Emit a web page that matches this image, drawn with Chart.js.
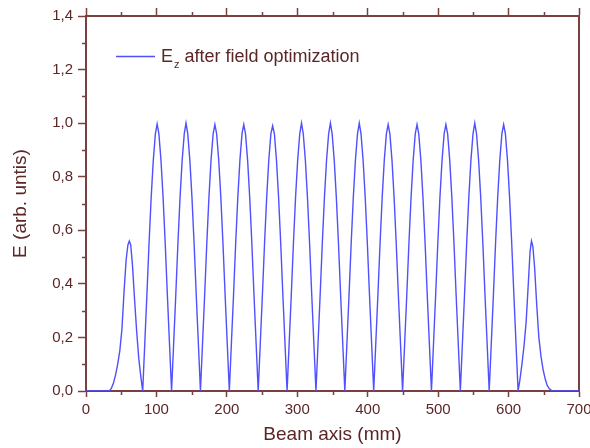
<!DOCTYPE html>
<html lang="en">
<head>
  <meta charset="UTF-8" />
  <title>Ez after field optimization</title>
  <script src="https://cdn.jsdelivr.net/npm/chart.js"></script>
  <style>
    html, body { margin: 0; padding: 0; background: #ffffff; }
    #wrap { width: 590px; height: 448px; }
  </style>
</head>
<body>
  <div id="wrap"><canvas id="fieldChart" width="590" height="448"></canvas></div>

  <script>
    // beam axis position (mm)
    const beamX = [
      0, 33, 36, 39, 42, 45, 48, 51, 54, 57, 59.5, 61.5, 63.5, 66, 69, 72, 75, 78,
      80.5, 83.5, 86.5, 89.5, 92.5, 95.5, 98.5, 101, 103.5, 106.5, 109.5, 112.5, 115.5, 118.5,
      121.5, 124.5, 127.5, 130.5, 133.5, 136.5, 139.5, 142, 144.5, 147.5, 150.5, 153.5, 156.5, 159.5,
      162.5, 165.5, 168.5, 171.5, 174.5, 177.5, 180.5, 183, 185.5, 188.5, 191.5, 194.5, 197.5, 200.5,
      203.5, 206.5, 209.5, 212.5, 215.5, 218.5, 221.5, 224, 226.5, 229.5, 232.5, 235.5, 238.5, 241.5,
      244.5, 247.5, 250.5, 253.5, 256.5, 259.5, 262.5, 265, 267.5, 270.5, 273.5, 276.5, 279.5, 282.5,
      285.5, 288.5, 291.5, 294.5, 297.5, 300.5, 303.5, 306, 308.5, 311.5, 314.5, 317.5, 320.5, 323.5,
      326.5, 329.5, 332.5, 335.5, 338.5, 341.5, 344.5, 347, 349.5, 352.5, 355.5, 358.5, 361.5, 364.5,
      367.5, 370.5, 373.5, 376.5, 379.5, 382.5, 385.5, 388, 390.5, 393.5, 396.5, 399.5, 402.5, 405.5,
      408.5, 411.5, 414.5, 417.5, 420.5, 423.5, 426.5, 429, 431.5, 434.5, 437.5, 440.5, 443.5, 446.5,
      449.5, 452.5, 455.5, 458.5, 461.5, 464.5, 467.5, 470, 472.5, 475.5, 478.5, 481.5, 484.5, 487.5,
      490.5, 493.5, 496.5, 499.5, 502.5, 505.5, 508.5, 511, 513.5, 516.5, 519.5, 522.5, 525.5, 528.5,
      531.5, 534.5, 537.5, 540.5, 543.5, 546.5, 549.5, 552, 554.5, 557.5, 560.5, 563.5, 566.5, 569.5,
      572.5, 575.5, 578.5, 581.5, 584.5, 587.5, 590.5, 593, 595.5, 598.5, 601.5, 604.5, 607.5, 610.5,
      613.5, 616, 619, 622, 625, 628, 630.5, 632.5, 634.5, 637, 640, 643, 646, 649, 652, 655, 658, 662, 668, 700
    ];

    // E (arb. units) at each position
    const fieldE = [
      0, 0, 0.01, 0.03, 0.06, 0.10, 0.15, 0.23, 0.37, 0.49, 0.545, 0.56, 0.545, 0.47, 0.34, 0.22, 0.12, 0.05,
      0, 0.18, 0.36, 0.55, 0.72, 0.86, 0.96, 0.997, 0.96, 0.86, 0.72, 0.55, 0.36, 0.18,
      0, 0.18, 0.36, 0.55, 0.72, 0.86, 0.96, 1.0, 0.96, 0.86, 0.72, 0.55, 0.36, 0.18,
      0, 0.18, 0.36, 0.55, 0.72, 0.86, 0.96, 0.995, 0.96, 0.86, 0.72, 0.55, 0.36, 0.18,
      0, 0.18, 0.36, 0.55, 0.72, 0.86, 0.96, 0.995, 0.96, 0.86, 0.72, 0.55, 0.36, 0.18,
      0, 0.18, 0.36, 0.55, 0.72, 0.86, 0.96, 0.99, 0.96, 0.86, 0.72, 0.55, 0.36, 0.18,
      0, 0.18, 0.36, 0.55, 0.72, 0.86, 0.96, 1.0, 0.96, 0.86, 0.72, 0.55, 0.36, 0.18,
      0, 0.18, 0.36, 0.55, 0.72, 0.86, 0.96, 1.0, 0.96, 0.86, 0.72, 0.55, 0.36, 0.18,
      0, 0.18, 0.36, 0.55, 0.72, 0.86, 0.96, 1.0, 0.96, 0.86, 0.72, 0.55, 0.36, 0.18,
      0, 0.18, 0.36, 0.55, 0.72, 0.86, 0.96, 0.995, 0.96, 0.86, 0.72, 0.55, 0.36, 0.18,
      0, 0.18, 0.36, 0.55, 0.72, 0.86, 0.96, 0.995, 0.96, 0.86, 0.72, 0.55, 0.36, 0.18,
      0, 0.18, 0.36, 0.55, 0.72, 0.86, 0.96, 0.995, 0.96, 0.86, 0.72, 0.55, 0.36, 0.18,
      0, 0.18, 0.36, 0.55, 0.72, 0.86, 0.96, 1.0, 0.96, 0.86, 0.72, 0.55, 0.36, 0.18,
      0, 0.18, 0.36, 0.55, 0.72, 0.86, 0.96, 0.995, 0.96, 0.86, 0.72, 0.55, 0.36, 0.18,
      0, 0.04, 0.10, 0.17, 0.26, 0.40, 0.52, 0.56, 0.54, 0.46, 0.32, 0.20, 0.13, 0.08, 0.045, 0.02, 0.008, 0, 0, 0
    ];

    // axis ticks
    const xTickValues = [0, 100, 200, 300, 400, 500, 600, 700];
    const xMinorTicks = [50, 150, 250, 350, 450, 550, 650];
    const yTickValues = [0, 0.2, 0.4, 0.6, 0.8, 1.0, 1.2, 1.4];
    const yTickLabels = ['0,0', '0,2', '0,4', '0,6', '0,8', '1,0', '1,2', '1,4'];
    const yMinorTicks = [0.1, 0.3, 0.5, 0.7, 0.9, 1.1, 1.3];

    const axisColor = '#7a4040';
    const textColor = '#5c2626';
    const lineColor = '#5050ff';
    const fontFamily = '"Liberation Sans", Arial, sans-serif';

    const points = beamX.map((x, i) => ({ x: x, y: fieldE[i] }));

    // short minor ticks (chart.js has no minor ticks)
    const minorTicks = {
      id: 'minorTicks',
      afterDraw(chart) {
        const { ctx, chartArea: a, scales } = chart;
        ctx.save();
        ctx.strokeStyle = axisColor;
        ctx.lineWidth = 1.5;
        ctx.beginPath();
        xMinorTicks.forEach(v => {
          const px = Math.round(scales.x.getPixelForValue(v)) + 0.5;
          ctx.moveTo(px, a.bottom); ctx.lineTo(px, a.bottom + 4);
          ctx.moveTo(px, a.top); ctx.lineTo(px, a.top - 4);
        });
        yMinorTicks.forEach(v => {
          const py = Math.round(scales.y.getPixelForValue(v)) + 0.5;
          ctx.moveTo(a.left, py); ctx.lineTo(a.left - 4, py);
        });
        ctx.stroke();
        ctx.restore();
      }
    };

    // legend with subscript z
    const subLegend = {
      id: 'subLegend',
      afterDraw(chart) {
        const { ctx, chartArea: a } = chart;
        const x0 = a.left + 30;
        const y0 = a.top + 40;
        ctx.save();
        ctx.strokeStyle = lineColor;
        ctx.lineWidth = 1.4;
        ctx.beginPath();
        ctx.moveTo(x0, y0 + 0.5);
        ctx.lineTo(x0 + 39, y0 + 0.5);
        ctx.stroke();

        ctx.fillStyle = textColor;
        ctx.textBaseline = 'alphabetic';
        ctx.textAlign = 'left';
        let tx = x0 + 45;
        ctx.font = '18px ' + fontFamily;
        ctx.fillText('E', tx, y0 + 6);
        tx += ctx.measureText('E').width + 1;
        ctx.font = '11px ' + fontFamily;
        ctx.fillText('z', tx, y0 + 12);
        tx += ctx.measureText('z').width;
        ctx.font = '18px ' + fontFamily;
        ctx.fillText(' after field optimization', tx, y0 + 6);
        ctx.restore();
      }
    };

    const ctx = document.getElementById('fieldChart').getContext('2d');
    new Chart(ctx, {
      type: 'line',
      data: {
        datasets: [{
          label: 'Ez after field optimization',
          data: points,
          borderColor: lineColor,
          borderWidth: 1.4,
          pointRadius: 0,
          tension: 0,
          fill: false
        }]
      },
      options: {
        responsive: false,
        animation: false,
        layout: { padding: 0 },
        plugins: {
          legend: { display: false },
          tooltip: { enabled: false }
        },
        scales: {
          x: {
            type: 'linear',
            position: 'bottom',
            min: 0,
            max: 700,
            afterBuildTicks: s => { s.ticks = xTickValues.map(v => ({ value: v })); },
            afterFit: s => { s.height = 57; s.paddingLeft = 0; s.paddingRight = 0; },
            ticks: {
              color: textColor,
              font: { family: fontFamily, size: 15 },
              padding: 4,
              maxRotation: 0
            },
            grid: {
              drawOnChartArea: false,
              tickLength: 6,
              tickColor: axisColor,
              tickWidth: 1.5
            },
            border: { color: axisColor, width: 2 },
            title: {
              display: true,
              text: 'Beam axis (mm)',
              color: textColor,
              font: { family: fontFamily, size: 19 },
              padding: { top: 0, bottom: 2 }
            }
          },
          x2: {
            type: 'linear',
            position: 'top',
            min: 0,
            max: 700,
            afterBuildTicks: s => { s.ticks = xTickValues.map(v => ({ value: v })); },
            afterFit: s => { s.height = 16; s.paddingLeft = 0; s.paddingRight = 0; },
            ticks: { display: false },
            grid: {
              drawOnChartArea: false,
              tickLength: 8,
              tickColor: axisColor,
              tickWidth: 1.5
            },
            border: { color: axisColor, width: 2 }
          },
          y: {
            type: 'linear',
            position: 'left',
            min: 0,
            max: 1.4,
            afterBuildTicks: s => { s.ticks = yTickValues.map(v => ({ value: v })); },
            afterFit: s => { s.width = 86; },
            ticks: {
              color: textColor,
              font: { family: fontFamily, size: 15 },
              padding: 5,
              callback: (v, i) => yTickLabels[i]
            },
            grid: {
              drawOnChartArea: false,
              tickLength: 8,
              tickColor: axisColor,
              tickWidth: 1.5
            },
            border: { color: axisColor, width: 2 },
            title: {
              display: true,
              text: 'E (arb. untis)',
              color: textColor,
              font: { family: fontFamily, size: 19 },
              padding: { top: 9, bottom: 0 }
            }
          },
          y2: {
            type: 'linear',
            position: 'right',
            min: 0,
            max: 1.4,
            afterFit: s => { s.width = 11; },
            ticks: { display: false },
            grid: { display: false, drawOnChartArea: false, drawTicks: false },
            border: { display: true, color: axisColor, width: 2 }
          }
        }
      },
      plugins: [minorTicks, subLegend]
    });
  </script>
</body>
</html>
